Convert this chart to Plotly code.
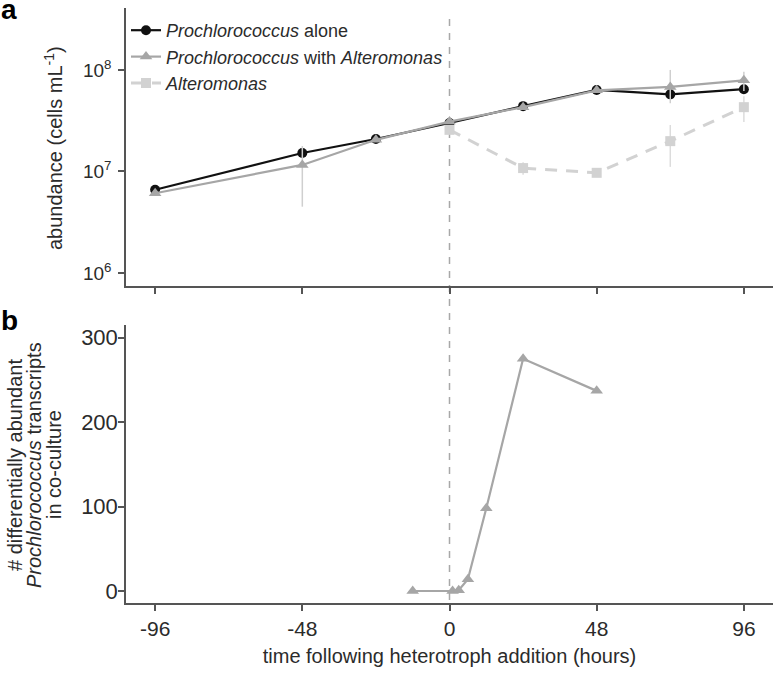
import plotly.graph_objects as go

# ---- data ----
hours_a = [-96, -48, -24, 0, 24, 48, 72, 96]
pro_alone = [6.6e6, 1.52e7, 2.09e7, 3.0e7, 4.4e7, 6.35e7, 5.75e7, 6.46e7]
pro_alone_err = [0.3e6, 0.8e6, 0.8e6, 1.0e6, 2.0e6, 3.0e6, 4.0e6, 4.0e6]

pro_with = [6.1e6, 1.16e7, 2.05e7, 3.1e7, 4.3e7, 6.3e7, 6.8e7, 7.9e7]
pro_with_err_plus = [0.3e6, 6.2e6, 0.8e6, 1.0e6, 2.0e6, 3.0e6, 3.2e7, 1.7e7]
pro_with_err_minus = [0.3e6, 7.1e6, 0.8e6, 1.0e6, 2.0e6, 3.0e6, 2.1e7, 1.7e7]

hours_alt = [0, 24, 48, 72, 96]
alteromonas = [2.57e7, 1.08e7, 9.7e6, 1.99e7, 4.3e7]
alt_err_plus = [1.5e6, 1.5e6, 0.8e6, 0.88e7, 1.2e7]
alt_err_minus = [1.5e6, 1.5e6, 0.8e6, 0.88e7, 1.23e7]

hours_b = [-12, 1, 3, 6, 12, 24, 48]
transcripts = [0, 0, 1, 14, 98, 275, 237]

x_ticks = [-96, -48, 0, 48, 96]
y_ticks_a = [1e6, 1e7, 1e8]
y_ticktext_a = ["10<sup>6</sup>", "10<sup>7</sup>", "10<sup>8</sup>"]
y_ticks_b = [0, 100, 200, 300]

# ---- styling ----
FONT = "Liberation Sans, Arial, Helvetica, sans-serif"
TXT = "#2b2b2b"
AX = "#555555"
BLACK = "#111111"
GREY = "#a6a6a6"
LIGHT = "#d2d2d2"

W, H = 773, 673
ML, MR, MT, MB = 126, 0, 8, 70
PW, PH = W - ML - MR, H - MT - MB


def px_x(px):
    return (px - ML) / PW


def px_y(py):
    return (H - MB - py) / PH


fig = go.Figure()

fig.add_trace(go.Scatter(
    x=hours_a, y=pro_alone, mode="lines+markers",
    name="<i>Prochlorococcus</i> alone",
    line=dict(color=BLACK, width=2.2),
    marker=dict(symbol="circle", size=10, color=BLACK),
    error_y=dict(type="data", array=pro_alone_err, color="#444444", thickness=1.5, width=0),
    xaxis="x", yaxis="y",
))
fig.add_trace(go.Scatter(
    x=hours_a, y=pro_with, mode="lines+markers",
    name="<i>Prochlorococcus</i> with <i>Alteromonas</i>",
    line=dict(color=GREY, width=2.2),
    marker=dict(symbol="triangle-up", size=11, color=GREY),
    error_y=dict(type="data", array=pro_with_err_plus, arrayminus=pro_with_err_minus,
                 color="#cfcfcf", thickness=1.5, width=0),
    xaxis="x", yaxis="y",
))
fig.add_trace(go.Scatter(
    x=hours_alt, y=alteromonas, mode="lines+markers",
    name="<i>Alteromonas</i>",
    line=dict(color=LIGHT, width=3, dash="12px,9px"),
    marker=dict(symbol="square", size=10, color=LIGHT),
    error_y=dict(type="data", array=alt_err_plus, arrayminus=alt_err_minus,
                 color="#dcdcdc", thickness=1.5, width=0),
    xaxis="x", yaxis="y",
))
fig.add_trace(go.Scatter(
    x=hours_b, y=transcripts, mode="lines+markers",
    name="transcripts", showlegend=False,
    line=dict(color=GREY, width=2.2),
    marker=dict(symbol="triangle-up", size=11, color=GREY),
    xaxis="x2", yaxis="y2",
))

axis_common = dict(
    showline=True, linecolor=AX, linewidth=1.5,
    ticks="outside", ticklen=6, tickcolor=AX, tickwidth=1.5,
    showgrid=False, zeroline=False, mirror=False, automargin=False,
)

fig.update_layout(
    width=W, height=H,
    margin=dict(l=ML, r=MR, t=MT, b=MB, autoexpand=False),
    paper_bgcolor="white", plot_bgcolor="white",
    font=dict(family=FONT, color=TXT),
    showlegend=True,
    legend=dict(x=0, y=px_y(12), xanchor="left", yanchor="top",
                bgcolor="rgba(0,0,0,0)", borderwidth=0,
                font=dict(family=FONT, size=18, color=TXT)),
    xaxis=dict(domain=[0, 1], range=[-105.5, 105.5], tickvals=x_ticks,
               showticklabels=False, anchor="y",
               tickfont=dict(family=FONT, size=21, color=TXT), **axis_common),
    yaxis=dict(domain=[px_y(286), 1], type="log", range=[5.872, 8.61],
               tickvals=y_ticks_a, ticktext=y_ticktext_a, anchor="x",
               ticklabelstandoff=3,
               tickfont=dict(family=FONT, size=19, color=TXT), **axis_common),
    xaxis2=dict(domain=[0, 1], range=[-105.5, 105.5], tickvals=x_ticks,
                ticktext=[str(v) for v in x_ticks], anchor="y2",
                ticklabelstandoff=0,
                tickfont=dict(family=FONT, size=21, color=TXT),
                title=dict(text="time following heterotroph addition (hours)",
                           font=dict(family=FONT, size=20, color=TXT), standoff=10),
                **axis_common),
    yaxis2=dict(domain=[0, px_y(325)], range=[-14.2, 315], tickvals=y_ticks_b,
                anchor="x2", ticklabelstandoff=-4,
                tickfont=dict(family=FONT, size=22, color=TXT), **axis_common),
)

# vertical dashed line at time 0 through both panels
fig.add_shape(type="line", xref="x", yref="paper", x0=0, x1=0,
              y0=px_y(600), y1=px_y(12),
              line=dict(color="#a8a8a8", width=1.5, dash="7px,7px"), layer="below")

ann = []
# panel letters
ann.append(dict(text="<b>a</b>", x=px_x(9), y=px_y(10), xref="paper", yref="paper",
                xanchor="center", yanchor="middle",
                showarrow=False, font=dict(family=FONT, size=28, color="#000000")))
ann.append(dict(text="<b>b</b>", x=px_x(9), y=px_y(320), xref="paper", yref="paper",
                xanchor="center", yanchor="middle",
                showarrow=False, font=dict(family=FONT, size=28, color="#000000")))
# y-axis titles
ann.append(dict(text="abundance (cells mL<sup>-1</sup>)", x=px_x(53), y=px_y(148),
                xref="paper", yref="paper", textangle=-90, showarrow=False,
                xanchor="center", yanchor="middle",
                font=dict(family=FONT, size=20, color=TXT)))
for txt, xp in [("# differentially abundant", 15),
                ("<i>Prochlorococcus</i> transcripts", 34),
                ("in co-culture", 54)]:
    ann.append(dict(text=txt, x=px_x(xp), y=px_y(465), xref="paper", yref="paper",
                    textangle=-90, showarrow=False,
                    xanchor="center", yanchor="middle",
                    font=dict(family=FONT, size=20, color=TXT)))
fig.update_layout(annotations=ann)

fig.write_html(
    "out.html",
    config={"displayModeBar": False},
    post_script="document.body.style.margin='0';document.body.style.padding='0';"
                "document.body.style.overflow='hidden';",
)
